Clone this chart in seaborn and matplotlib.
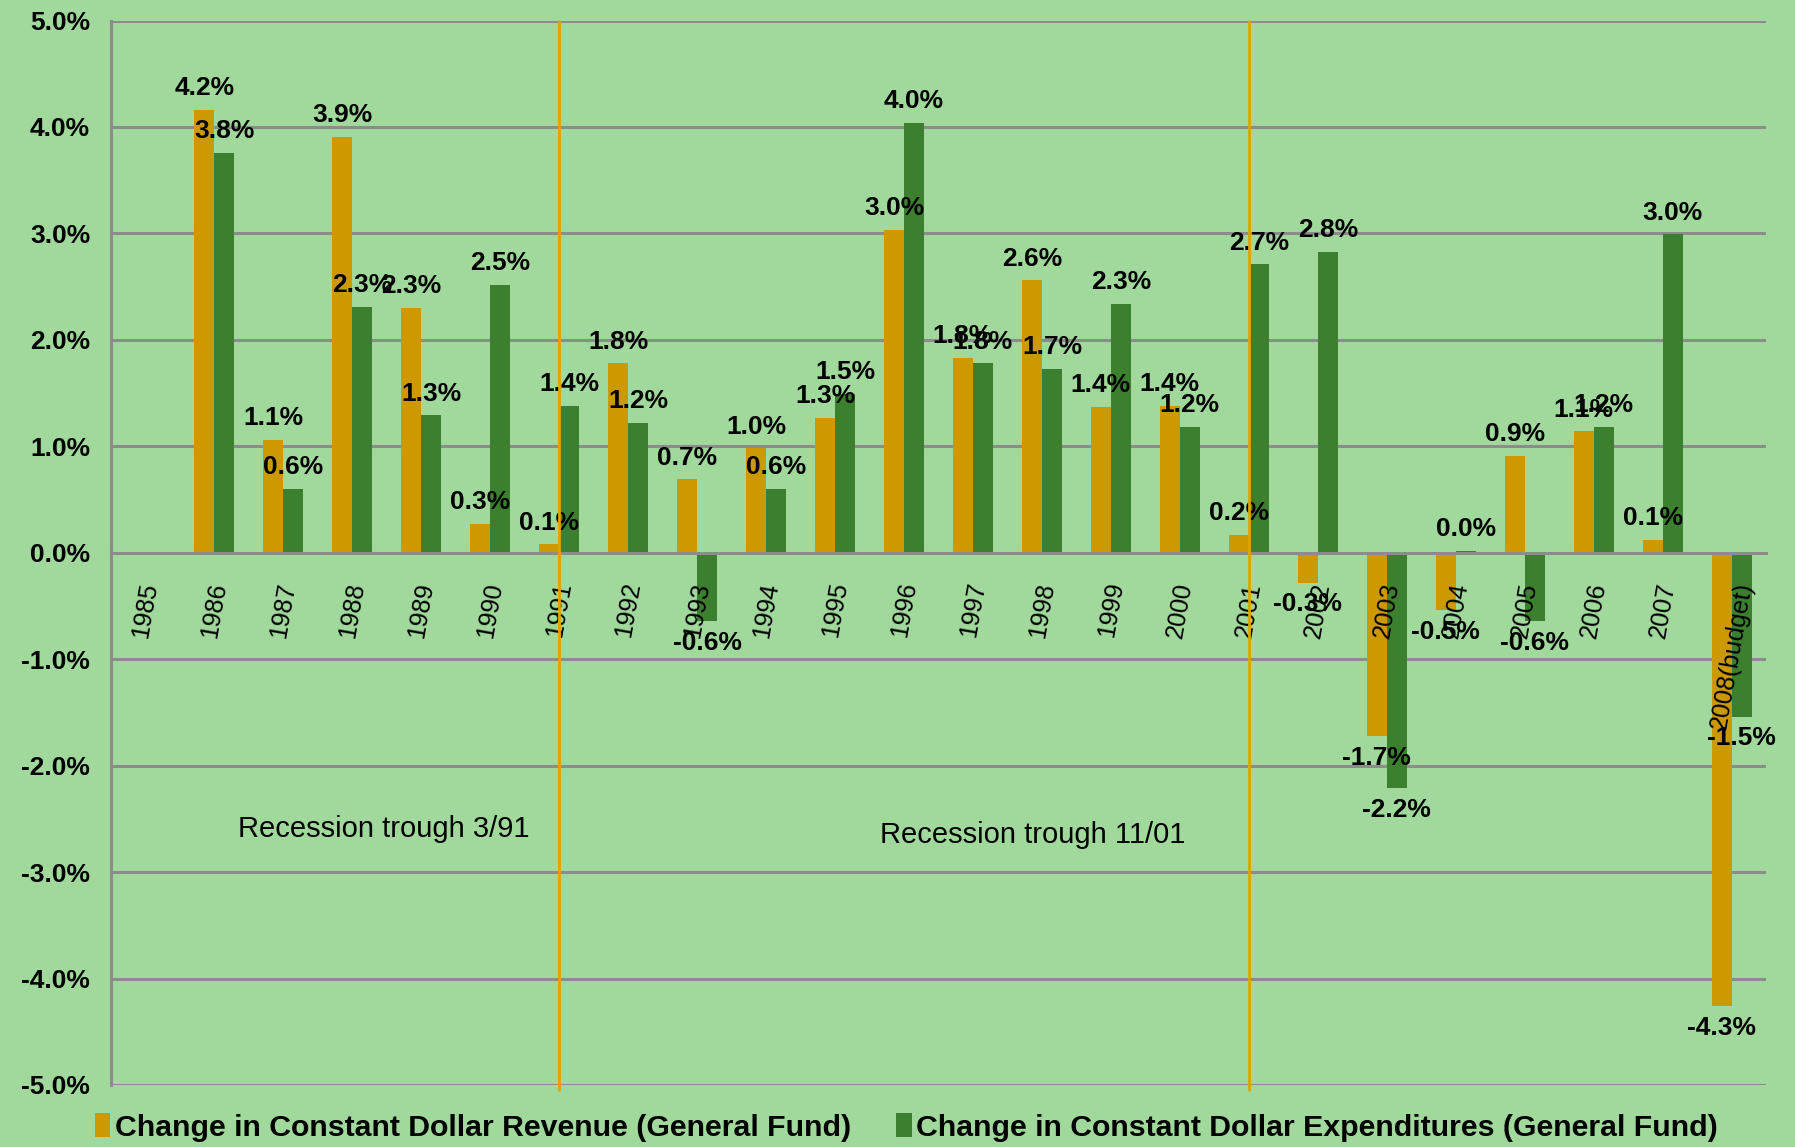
import matplotlib
matplotlib.use("Agg")
import matplotlib.pyplot as plt
import seaborn as sns
import pandas as pd
import numpy as np
from matplotlib.ticker import FixedLocator

years = ["1985", "1986", "1987", "1988", "1989", "1990", "1991", "1992", "1993",
         "1994", "1995", "1996", "1997", "1998", "1999", "2000", "2001", "2002",
         "2003", "2004", "2005", "2006", "2007", "2008(budget)"]
revenue = [np.nan, 4.16, 1.06, 3.91, 2.30, 0.27, 0.08, 1.78, 0.69, 0.98, 1.27, 3.03,
           1.83, 2.56, 1.37, 1.38, 0.17, -0.28, -1.72, -0.54, 0.91, 1.14, 0.12, -4.26]
expenditures = [np.nan, 3.76, 0.60, 2.31, 1.29, 2.52, 1.38, 1.22, -0.64, 0.60, 1.49, 4.04,
                1.78, 1.73, 2.34, 1.18, 2.71, 2.83, -2.21, 0.02, -0.64, 1.18, 2.99, -1.54]
series_names = ["Change in Constant Dollar Revenue (General Fund)",
                "Change in Constant Dollar Expenditures (General Fund)"]
y_ticks = [-5, -4, -3, -2, -1, 0, 1, 2, 3, 4, 5]
recession_years = ["1991", "2001"]
recession_labels = ["Recession trough 3/91", "Recession trough 11/01"]
recession_label_pos = [(3.45, -2.6), (12.87, -2.65)]

BG = "#A0D99B"
ORANGE = "#CC9900"
GREEN = "#3B7F2F"
GRID = "#8C8C8C"

sns.set_style("white")
plt.rcParams['font.family'] = ['Liberation Sans', 'DejaVu Sans']
plt.rcParams['text.color'] = 'black'
plt.rcParams['xtick.color'] = 'black'
plt.rcParams['ytick.color'] = 'black'
plt.rcParams['axes.axisbelow'] = False

df = pd.DataFrame({
    "year": years * 2,
    "value": revenue + expenditures,
    "series": [series_names[0]] * len(years) + [series_names[1]] * len(years),
})

fig = plt.figure(figsize=(17.95, 11.47), dpi=100, facecolor=BG)
ax = fig.add_axes([0.0618, 0.0541, 0.9221, 0.928])
ax.set_facecolor(BG)

sns.barplot(data=df, x="year", y="value", hue="series", order=years,
            hue_order=series_names, palette=[ORANGE, GREEN], width=0.58,
            saturation=1, ax=ax, errorbar=None, linewidth=0, edgecolor="none")

ax.set_axisbelow(False)
ax.set_ylim(-5, 5)
ax.set_xlim(-0.5, len(years) - 0.5)
ax.set_yticks(y_ticks)
ax.set_yticklabels([f"{v:.1f}%" for v in y_ticks], fontsize=19, fontweight="bold")
ax.grid(False)
for v in y_ticks:
    if v != 0:
        ax.axhline(v, color=GRID, linewidth=2.2, zorder=0.5)
ax.set_xlabel("")
ax.set_ylabel("")

for s in ["top", "right"]:
    ax.spines[s].set_visible(False)
ax.spines["left"].set_color(GRID)
ax.spines["left"].set_linewidth(2.2)
ax.spines["bottom"].set_position(("data", 0))
ax.spines["bottom"].set_color(GRID)
ax.spines["bottom"].set_linewidth(2.2)

ax.tick_params(axis="y", direction="out", length=6, width=2, color=GRID, pad=9)
ax.tick_params(axis="x", which="major", length=0, pad=20)
ax.xaxis.set_minor_locator(FixedLocator(np.arange(0.5, len(years), 1.0)))
ax.tick_params(axis="x", which="minor", direction="out", length=6, width=2, color=GRID)
for lab in ax.get_xticklabels():
    lab.set_rotation(80)
    lab.set_fontsize(18)
    lab.set_ha("center")
    lab.set_va("top")
    lab.set_color("black")

for cont in ax.containers:
    ax.bar_label(cont, fmt="{:.1f}%", padding=7, fontsize=19, fontweight="bold",
                 color="black")

for yr in recession_years:
    ax.axvline(years.index(yr), ymin=-0.005, ymax=1.0, color="#E0A400",
               linewidth=2, clip_on=False, zorder=3)
for txt, (xx, yy) in zip(recession_labels, recession_label_pos):
    ax.text(xx, yy, txt, ha="center", va="center", fontsize=21, color="black")

handles, labels = ax.get_legend_handles_labels()
for h in handles:
    h.set_linewidth(0)
    h.set_edgecolor("none")
if ax.get_legend() is not None:
    ax.get_legend().remove()
fig.legend(handles, labels, loc="center", bbox_to_anchor=(0.505, 0.017), ncol=2,
           frameon=False, prop={"size": 21.8, "weight": "bold"}, handlelength=0.5,
           handleheight=0.85, handletextpad=0.15, columnspacing=1.5, borderpad=0)

fig.savefig("out.png", dpi=100, facecolor=BG)
